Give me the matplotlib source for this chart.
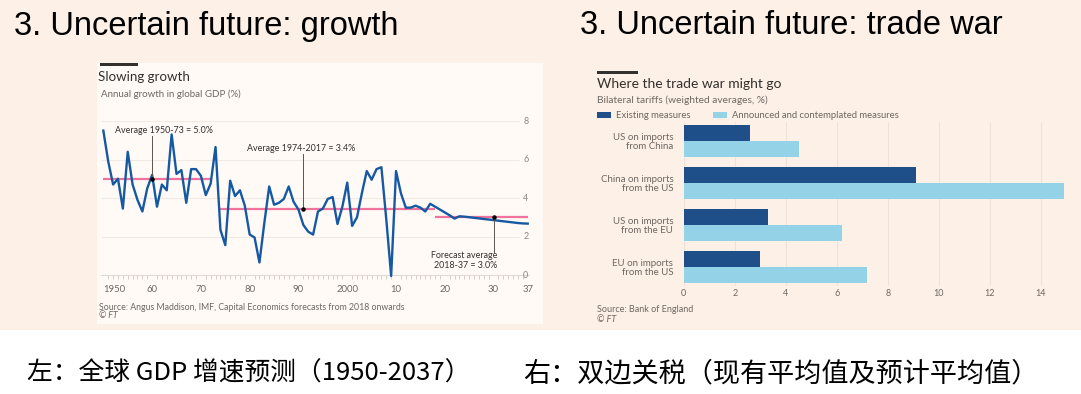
import matplotlib
matplotlib.use("Agg")
import matplotlib.pyplot as plt
from matplotlib.patches import Rectangle

# ---- data: global GDP growth (%)
years = list(range(1950, 2038))
gdp_growth = [
    7.5, 5.9, 4.7, 5.0, 3.45, 6.4, 4.7, 3.9, 3.3, 4.5,
    5.2, 3.55, 4.7, 4.4, 7.3, 5.25, 5.45, 3.75, 5.5, 5.5,
    5.15, 4.15, 4.75, 6.65, 2.35, 1.55, 4.9, 4.1, 4.4, 3.6,
    2.1, 1.95, 0.65, 2.7, 4.6, 3.65, 3.75, 3.95, 4.6, 3.8,
    3.4, 2.6, 2.25, 2.1, 3.3, 3.45, 3.95, 4.05, 2.65, 3.55,
    4.8, 2.55, 3.0, 4.25, 5.4, 4.95, 5.5, 5.6, 2.9, -0.05,
    5.4, 4.25, 3.5, 3.5, 3.6, 3.5, 3.3, 3.7, 3.55, 3.4,
    3.25, 3.1, 2.93, 3.05, 3.03, 3.0, 2.97, 2.94, 2.91, 2.88,
    2.85, 2.82, 2.79, 2.76, 2.73, 2.7, 2.68, 2.67,
]
avg_periods = [(1950, 1972), (1974, 2018), (2018, 2037)]
avg_values = [5.0, 3.45, 3.03]
gdp_yticks = [0, 2, 4, 6, 8]
gdp_xticks = [1950, 1960, 1970, 1980, 1990, 2000, 2010, 2020, 2030, 2037]
gdp_xlabels = ["1950", "60", "70", "80", "90", "2000", "10", "20", "30", "37"]

# ---- data: bilateral tariffs (%)
tariff_cats = ["US on imports\nfrom China", "China on imports\nfrom the US",
               "US on imports\nfrom the EU", "EU on imports\nfrom the US"]
existing = [2.6, 9.1, 3.3, 3.0]
announced = [4.5, 14.9, 6.2, 7.2]
tariff_ticks = [0, 2, 4, 6, 8, 10, 12, 14]

PEACH = "#FDF0E6"
PANEL = "#FFFAF6"
BLUE = "#1659A3"
PINK = "#F0739E"
DARK = "#1F4F89"
LIGHT = "#94D3E7"
TXT = "#33302E"
GREY = "#6E6762"
FT_FONT = "Lato"

W, H = 1081, 394
fig = plt.figure(figsize=(W / 100, H / 100), dpi=100)
fig.patch.set_facecolor("white")


def box(l, t, r, b):
    return [l / W, 1 - b / H, (r - l) / W, (b - t) / H]


def ftext(x, y, s, **kw):
    kw.setdefault("family", FT_FONT)
    return fig.text(x / W, 1 - y / H, s, **kw)


def frect(l, t, r, b, color):
    fig.add_artist(Rectangle((l / W, 1 - b / H), (r - l) / W, (b - t) / H,
                             transform=fig.transFigure, color=color, zorder=0, lw=0))


frect(0, 0, W, 330, PEACH)
frect(97, 63, 543, 324, PANEL)

# slide titles
ftext(14, 26, "3. Uncertain future: growth", family="Liberation Sans",
      fontsize=23.5, va="center", color="black")
ftext(580, 26, "3. Uncertain future: trade war", family="Liberation Sans",
      fontsize=23.5, va="center", color="black")

# ================= left chart
frect(100, 63, 138, 65.5, TXT)
ftext(98, 77, "Slowing growth", fontsize=9.6, va="center", color=TXT)
ftext(101, 94, "Annual growth in global GDP (%)", fontsize=7.0, va="center", color=GREY)

ax1 = fig.add_axes(box(100.9, 113.3, 529.2, 275))
ax1.set_facecolor("none")
ax1.set_xlim(1949.5, 2037.3)
ax1.set_ylim(0, 8.4)
for s in ["top", "right", "left"]:
    ax1.spines[s].set_visible(False)
ax1.spines["bottom"].set_color("#E2D9D2")
ax1.spines["bottom"].set_linewidth(0.8)
ax1.set_yticks([])
ax1.hlines(gdp_yticks[1:], 1949.5, 2035.3, color="#F1E9E2", lw=0.8, zorder=1)
for v in gdp_yticks:
    ax1.text(2036.6, v, str(v), ha="center", va="center", fontsize=6.5,
             color="#8F8780", family=FT_FONT)

ax1.set_xticks(gdp_xticks, gdp_xlabels)
ax1.set_xticks(years, minor=True)
ax1.tick_params(axis="x", which="major", length=0, pad=7, labelsize=6.8,
                labelcolor=GREY)
ax1.tick_params(axis="x", which="minor", length=3, width=0.6, color="#CFC6BF")
for lab in ax1.get_xticklabels():
    lab.set_family(FT_FONT)
ax1.get_xticklabels()[0].set_ha("left")

for (x0, x1), v in zip(avg_periods, avg_values):
    ax1.hlines(v, x0, x1, color=PINK, lw=1.6, zorder=2)
ax1.plot(years, gdp_growth, color=BLUE, lw=1.7, zorder=3, clip_on=False,
         solid_joinstyle="round")

# annotations
ax1.plot([1960, 1960], [5.0, 7.2], color="#5A5550", lw=0.7, zorder=4)
ax1.plot(1960, 5.0, "o", color="black", ms=2.2, zorder=5)
ax1.text(1952.4, 7.53, "Average 1950-73 = 5.0%", fontsize=6.4, color=TXT,
         va="center", ha="left", family=FT_FONT)
ax1.plot([1991, 1991], [3.45, 6.27], color="#5A5550", lw=0.7, zorder=4)
ax1.plot(1991, 3.45, "o", color="black", ms=2.2, zorder=5)
ax1.text(1990.6, 6.55, "Average 1974-2017 = 3.4%", fontsize=6.4, color=TXT,
         va="center", ha="center", family=FT_FONT)
ax1.plot([2030, 2030], [3.03, 1.21], color="#5A5550", lw=0.7, zorder=4)
ax1.plot(2030, 3.03, "o", color="black", ms=2.2, zorder=5)
ax1.text(2030.8, 0.76, "Forecast average\n2018-37 = 3.0%", fontsize=6.4,
         color=TXT, va="center", ha="right", multialignment="right",
         linespacing=1.1, family=FT_FONT)

ftext(99, 307, "Source: Angus Maddison, IMF, Capital Economics forecasts from 2018 onwards",
      fontsize=6.3, va="center", color=GREY)
ftext(99, 316, "© FT", fontsize=6.3, va="center", color=GREY, style="italic")

# ================= right chart
frect(597, 71, 638, 73.5, TXT)
ftext(597, 84, "Where the trade war might go", fontsize=10, va="center", color=TXT)
ftext(597, 100, "Bilateral tariffs (weighted averages, %)", fontsize=7.3,
      va="center", color=GREY)

ax2 = fig.add_axes(box(683.7, 122.4, 1071.6, 285.9))
ax2.set_facecolor("none")
pos = list(range(len(tariff_cats)))
bh = 0.38
b1 = ax2.barh([p - bh / 2 for p in pos], existing, height=bh, color=DARK,
              label="Existing measures", zorder=2)
b2 = ax2.barh([p + bh / 2 for p in pos], announced, height=bh, color=LIGHT,
              label="Announced and contemplated measures", zorder=2)
ax2.set_xlim(0, 15.2)
ax2.set_ylim(3.45, -0.45)
for s in ax2.spines.values():
    s.set_visible(False)
ax2.set_xticks(tariff_ticks)
ax2.grid(axis="x", color="#EEE3DA", lw=0.8, zorder=0)
ax2.tick_params(axis="x", length=0, pad=2, labelsize=6.5, labelcolor=GREY)
ax2.set_yticks(pos, tariff_cats)
ax2.tick_params(axis="y", length=0, pad=7.5, labelsize=7, labelcolor=GREY)
for lab in ax2.get_xticklabels() + ax2.get_yticklabels():
    lab.set_family(FT_FONT)
for lab in ax2.get_yticklabels():
    lab.set_linespacing(0.95)
    lab.set_multialignment("right")

leg = ax2.legend(handles=[b1, b2], loc="center left",
                 bbox_to_anchor=(597 / W, 1 - 115.5 / H),
                 bbox_transform=fig.transFigure, ncol=2, frameon=False,
                 borderaxespad=0, borderpad=0, handlelength=1.5,
                 handleheight=0.55, handletextpad=0.55, columnspacing=2.3,
                 prop={"family": FT_FONT, "size": 6.8})
for t in leg.get_texts():
    t.set_color(GREY)

ftext(597, 310, "Source: Bank of England", fontsize=6.5, va="center", color=GREY)
ftext(597, 319, "© FT", fontsize=6.5, va="center", color=GREY, style="italic")

# ================= caption
cjk = ["Noto Sans CJK SC", "DejaVu Sans"]
ftext(27, 374, "左：全球 GDP 增速预测（1950-2037）", family=cjk, fontsize=18.5,
      va="center", color="black")
ftext(523, 374, "右：双边关税（现有平均值及预计平均值）", family=cjk, fontsize=19.5,
      va="center", color="black")

fig.savefig("out.png", dpi=100, facecolor=fig.get_facecolor())
